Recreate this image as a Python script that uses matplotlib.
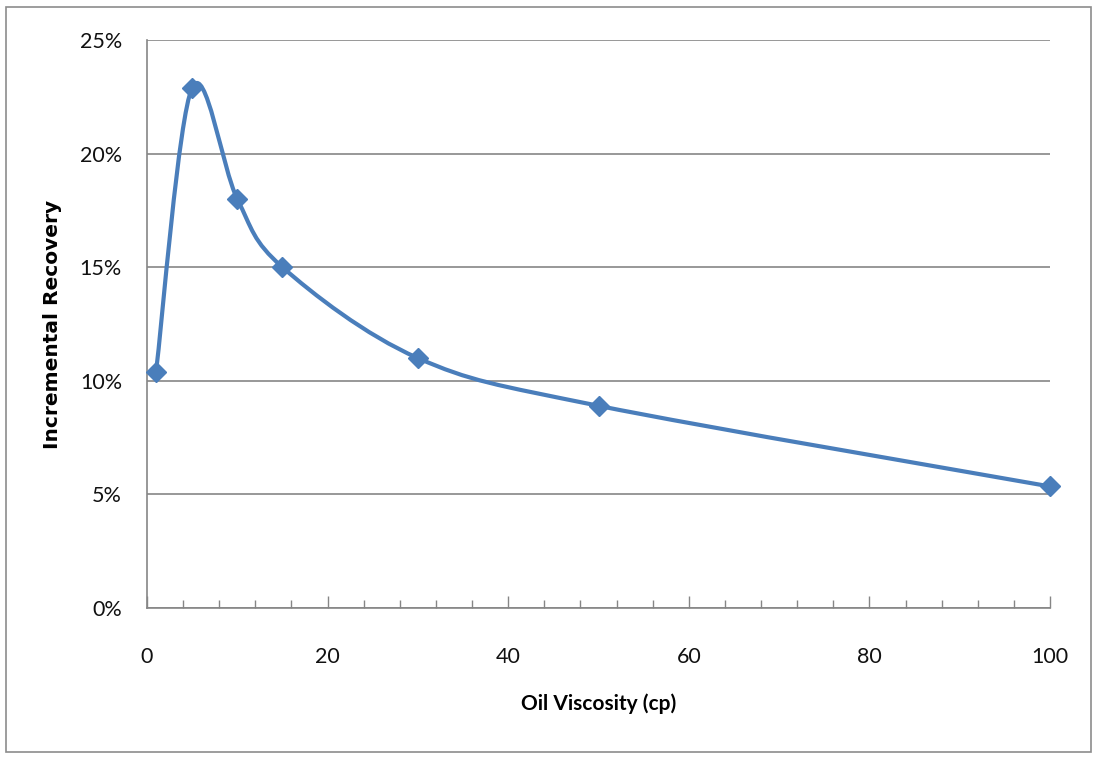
import matplotlib
matplotlib.use("Agg")
import matplotlib.pyplot as plt
from matplotlib.path import Path
from matplotlib.patches import PathPatch, Rectangle
from matplotlib.ticker import MultipleLocator, FuncFormatter
import numpy as np

# Incremental recovery versus oil viscosity
viscosity_cp = [1, 5, 10, 15, 30, 50, 100]
recovery_pct = [10.4, 22.9, 18.0, 15.0, 11.0, 8.9, 5.35]

x_ticks = [0, 20, 40, 60, 80, 100]
y_ticks = [0, 5, 10, 15, 20, 25]

LINE_COLOR = "#4A7EBB"
GRID_COLOR = "#868686"

plt.rcParams["font.family"] = ["Lato", "DejaVu Sans"]

fig = plt.figure(figsize=(10.96, 7.58), dpi=100)
ax = fig.add_axes([147 / 1096, 1 - 608 / 758, (1050 - 147) / 1096, (608 - 40) / 758])

# smoothed line through the points (Catmull-Rom segments as cubic Beziers)
pts = np.column_stack([viscosity_cp, recovery_pct]).astype(float)
verts = [tuple(pts[0])]
codes = [Path.MOVETO]
n = len(pts)
for i in range(n - 1):
    p0 = pts[i - 1] if i > 0 else pts[i]
    p1 = pts[i]
    p2 = pts[i + 1]
    p3 = pts[i + 2] if i + 2 < n else pts[i + 1]
    c1 = p1 + (p2 - p0) / 6.0
    c2 = p2 - (p3 - p1) / 6.0
    verts += [tuple(c1), tuple(c2), tuple(p2)]
    codes += [Path.CURVE4] * 3
ax.add_patch(PathPatch(Path(verts, codes), facecolor="none", edgecolor=LINE_COLOR,
                       lw=3.0, capstyle="round", joinstyle="round", zorder=3))
ax.plot(viscosity_cp, recovery_pct, linestyle="none", marker="D", markersize=10,
        color=LINE_COLOR, zorder=4, clip_on=False)

ax.set_xlim(0, 100)
ax.set_ylim(0, 25)
ax.xaxis.set_major_locator(MultipleLocator(20))
ax.xaxis.set_minor_locator(MultipleLocator(4))
ax.set_yticks(y_ticks)
ax.set_xticks(x_ticks)
ax.yaxis.set_major_formatter(FuncFormatter(lambda v, p: f"{v:.0f}%"))

ax.grid(axis="y", color=GRID_COLOR, lw=1.2)
ax.set_axisbelow(True)
for side in ("top", "right"):
    ax.spines[side].set_visible(False)
for side in ("left", "bottom"):
    ax.spines[side].set_color(GRID_COLOR)
    ax.spines[side].set_linewidth(1.2)

ax.tick_params(axis="x", which="major", direction="in", length=9, width=1, color=GRID_COLOR,
               pad=28, labelsize=15.5, labelcolor="#111111")
ax.tick_params(axis="x", which="minor", direction="in", length=6, width=1, color=GRID_COLOR)
ax.tick_params(axis="y", which="major", length=0, pad=18, labelsize=15.5, labelcolor="#111111")

ax.set_xlabel("Oil Viscosity (cp)", fontsize=15, fontweight="bold")
ax.xaxis.set_label_coords(0.5, (608 - 693) / 568)
ax.set_ylabel("Incremental Recovery", fontsize=14.5, fontweight="bold",
              family=["DejaVu Sans"])
ax.yaxis.set_label_coords((62 - 147) / 903, 0.5)

# chart frame
fig.patches.append(Rectangle((6 / 1096, 1 - 752 / 758), (1091 - 6) / 1096, (752 - 7) / 758,
                             transform=fig.transFigure, fill=False, edgecolor="#8c8c8c", lw=1.2))

fig.savefig("out.png", dpi=100)
